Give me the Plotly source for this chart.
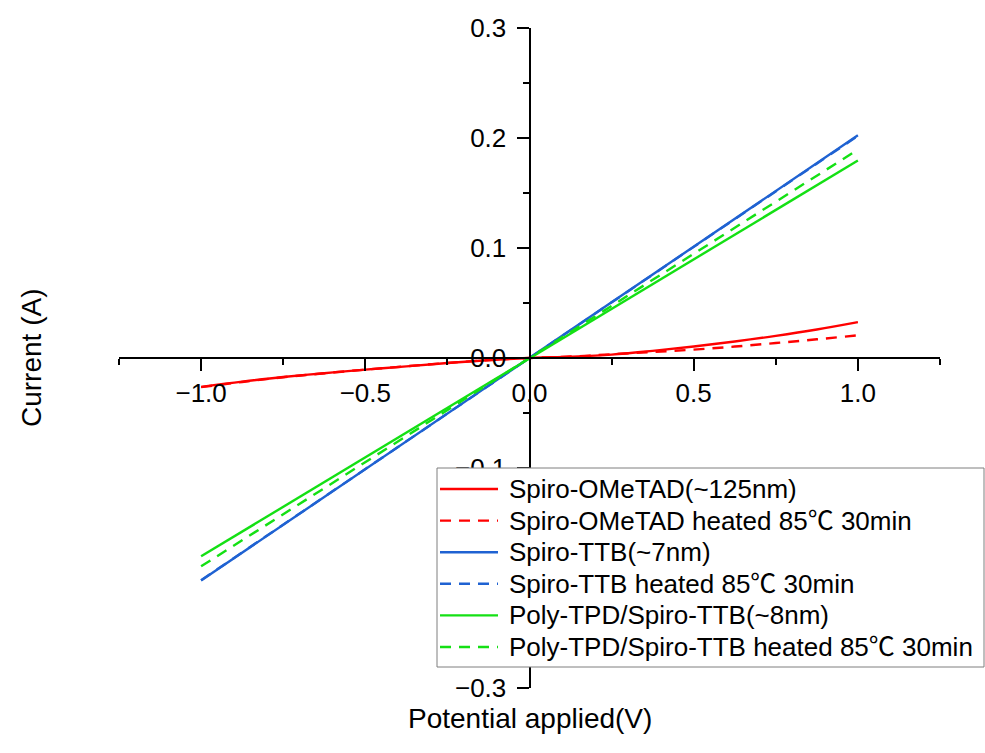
import plotly.graph_objects as go

# ---- data ----
voltage = [-1.0, -0.875, -0.75, -0.625, -0.5, -0.375, -0.25, -0.125, 0.0,
           0.125, 0.25, 0.375, 0.5, 0.625, 0.75, 0.875, 1.0]

spiro_ometad = [-0.0262, -0.0215, -0.0173, -0.0138, -0.0106, -0.0076, -0.0046, -0.0020, 0.0,
                0.0012, 0.0031, 0.0065, 0.0104, 0.0150, 0.0201, 0.0259, 0.0326]
spiro_ometad_heated = [-0.0265, -0.0218, -0.0175, -0.0139, -0.0106, -0.0075, -0.0045, -0.0019, 0.0,
                       0.0013, 0.0034, 0.0055, 0.0076, 0.0104, 0.0136, 0.0170, 0.0206]
spiro_ttb = [-0.2022, -0.1770, -0.1517, -0.1264, -0.1011, -0.0758, -0.0506, -0.0253, 0.0,
             0.0253, 0.0506, 0.0759, 0.1012, 0.1265, 0.1518, 0.1771, 0.2024]
spiro_ttb_heated = [-0.2020, -0.1768, -0.1515, -0.1263, -0.1010, -0.0758, -0.0505, -0.0253, 0.0,
                    0.0252, 0.0505, 0.0757, 0.1010, 0.1262, 0.1515, 0.1767, 0.2020]
polytpd = [-0.1803, -0.1578, -0.1352, -0.1127, -0.0902, -0.0676, -0.0451, -0.0225, 0.0,
           0.0225, 0.0449, 0.0674, 0.0898, 0.1123, 0.1347, 0.1572, 0.1796]
polytpd_heated = [-0.1894, -0.1657, -0.1420, -0.1184, -0.0947, -0.0710, -0.0473, -0.0237, 0.0,
                  0.0237, 0.0473, 0.0710, 0.0947, 0.1184, 0.1420, 0.1657, 0.1894]

names = ["Spiro-OMeTAD(~125nm)",
         "Spiro-OMeTAD heated 85℃ 30min",
         "Spiro-TTB(~7nm)",
         "Spiro-TTB heated 85℃ 30min",
         "Poly-TPD/Spiro-TTB(~8nm)",
         "Poly-TPD/Spiro-TTB heated 85℃ 30min"]
series = [spiro_ometad, spiro_ometad_heated, spiro_ttb, spiro_ttb_heated, polytpd, polytpd_heated]
colors = ["#FF0000", "#FF0000", "#1F62D2", "#1F62D2", "#14E014", "#14E014"]
dashes = ["solid", "11px,8px", "solid", "11px,8px", "solid", "11px,8px"]

x_ticks = [-1.0, -0.5, 0.0, 0.5, 1.0]
x_ticktext = ["−1.0", "−0.5", "0.0", "0.5", "1.0"]
y_ticks = [-0.3, -0.2, -0.1, 0.0, 0.1, 0.2, 0.3]
y_ticktext = ["−0.3", "−0.2", "−0.1", "0.0", "0.1", "0.2", "0.3"]

FONT = "Liberation Sans, Arial, Noto Sans CJK SC, sans-serif"

# plot-area pixel geometry (for placing the legend box in paper units)
L, R, T, B = 119, 45, 28, 65
W, H = 985, 753
PW, PH = W - L - R, H - T - B


def px_x(p):
    return (p - L) / PW


def px_y(p):
    return (H - B - p) / PH


fig = go.Figure()
order = [0, 1, 3, 2, 5, 4]
for i in order:
    fig.add_trace(go.Scatter(
        x=voltage, y=series[i], mode="lines", name=names[i],
        line=dict(color=colors[i], width=2.4, dash=dashes[i],
                  shape="spline" if i < 2 else "linear"),
        showlegend=False,
    ))

# legend drawn as box + samples + text (to match the reference's compact rows)
shapes = [dict(type="rect", xref="paper", yref="paper",
               x0=px_x(437), x1=px_x(984), y0=px_y(667), y1=px_y(468),
               fillcolor="white", line=dict(color="#7f7f7f", width=1), layer="above")]
annotations = []
row0, step = 489, 31.6
for k in range(6):
    yy = px_y(row0 + step * k)
    shapes.append(dict(type="line", xref="paper", yref="paper",
                       x0=px_x(440), x1=px_x(498), y0=yy, y1=yy, layer="above",
                       line=dict(color=colors[k], width=2.4, dash=dashes[k])))
    annotations.append(dict(text=names[k], xref="paper", yref="paper",
                            x=px_x(507), y=yy, xanchor="left", yanchor="middle",
                            showarrow=False, font=dict(family=FONT, size=26, color="black")))

annotations += [
    dict(text="Current (A)", xref="paper", yref="paper", x=px_x(31), y=px_y(358),
         xanchor="center", yanchor="middle", textangle=-90, showarrow=False,
         font=dict(family=FONT, size=28)),
    dict(text="Potential applied(V)", xref="paper", yref="paper", x=0.5, y=px_y(718),
         xanchor="center", yanchor="middle", showarrow=False,
         font=dict(family=FONT, size=28)),
]

fig.update_layout(
    width=W, height=H,
    margin=dict(l=L, r=R, t=T, b=B, autoexpand=False),
    paper_bgcolor="white", plot_bgcolor="white",
    font=dict(family=FONT, size=26, color="black"),
    showlegend=False,
    xaxis=dict(
        range=[-1.25, 1.25], anchor="free", position=0.5,
        showline=True, linecolor="black", linewidth=2,
        showgrid=False, zeroline=False,
        tickmode="array", tickvals=x_ticks, ticktext=x_ticktext,
        ticks="outside", ticklen=12, tickwidth=2, tickcolor="black",
        minor=dict(ticks="outside", ticklen=6, tickwidth=2, tickcolor="black",
                   tick0=-1.25, dtick=0.25),
        tickfont=dict(family=FONT, size=26),
    ),
    yaxis=dict(
        range=[-0.3, 0.3], anchor="free", position=0.5,
        showline=True, linecolor="black", linewidth=2,
        showgrid=False, zeroline=False,
        tickmode="array", tickvals=y_ticks, ticktext=y_ticktext,
        ticks="outside", ticklen=12, tickwidth=2, tickcolor="black",
        ticklabelstandoff=5,
        minor=dict(ticks="outside", ticklen=6, tickwidth=2, tickcolor="black",
                   tick0=-0.3, dtick=0.05),
        tickfont=dict(family=FONT, size=26),
    ),
    shapes=shapes,
    annotations=annotations,
)

fig.write_html("out.html")
